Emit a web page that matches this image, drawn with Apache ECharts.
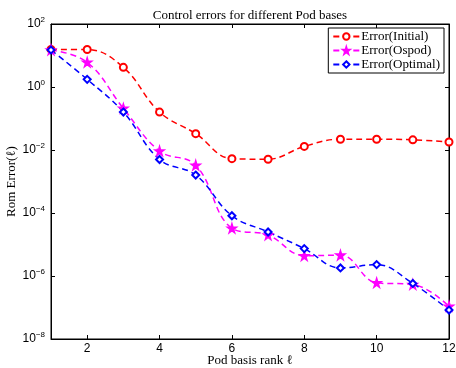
<!DOCTYPE html>
<html>
<head>
<meta charset="utf-8">
<script src="https://cdn.jsdelivr.net/npm/echarts@6/dist/echarts.min.js"></script>
<style>
  html, body { margin: 0; padding: 0; background: #fff; }
  #chart { width: 456px; height: 368px; }
</style>
</head>
<body>
<div id="chart"></div>
<script>
// data
const ranks = [1, 2, 3, 4, 5, 6, 7, 8, 9, 10, 11, 12];
const errInitial = [15.6, 15.5, 4.2, 0.16, 0.033, 0.0053, 0.0051, 0.013, 0.022, 0.022, 0.021, 0.018];
const errOspod = [15, 6.1, 0.21, 0.0093, 0.0033, 3.3e-5, 2.0e-5, 4.4e-6, 4.6e-6, 6.1e-7, 5.4e-7, 1.1e-7];
const errOptimal = [15, 1.75, 0.16, 0.005, 0.0016, 8.2e-5, 2.5e-5, 7.4e-6, 1.8e-6, 2.3e-6, 5.8e-7, 8.3e-8];
const seriesNames = ['Error(Initial)', 'Error(Ospod)', 'Error(Optimal)'];

const serif = '"Liberation Serif", "DejaVu Serif", serif';
const sans = '"Liberation Sans", Arial, sans-serif';
const starPath = 'path://M50,0 L61,35 L98,35 L68,57 L79,91 L50,70 L21,91 L32,57 L2,35 L39,35 Z';

const chart = echarts.init(document.getElementById('chart'), null, { renderer: 'canvas' });

const pairs = arr => ranks.map((r, i) => [r, arr[i]]);

const mkSeries = (name, data, color, symbol, size) => ({
  name: name,
  type: 'line',
  data: pairs(data),
  smooth: 0.4,
  symbol: symbol,
  symbolSize: size,
  color: color,
  lineStyle: { color: color, width: 1.5, type: [6, 4] },
  itemStyle: { color: color, borderColor: color, borderWidth: 1.5 },
  emphasis: { disabled: true },
  animation: false,
});

const expLabel = v => {
  const e = Math.round(Math.log10(v));
  return '{b|10}{s|' + (e < 0 ? '\u2212' + (-e) : e) + '}';
};

const tickInside = { show: true, inside: true, length: 4, lineStyle: { color: '#000' } };

const option = {
  backgroundColor: '#fff',
  animation: false,
  title: {
    text: 'Control errors for different Pod bases',
    left: 245,
    textAlign: 'center',
    top: 4,
    textStyle: { fontFamily: serif, fontSize: 13, fontWeight: 'normal', color: '#000' },
  },
  legend: {
    data: seriesNames,
    orient: 'vertical',
    right: 12,
    top: 28,
    backgroundColor: '#fff',
    borderColor: '#000',
    borderWidth: 1,
    padding: [2, 4, 2, 4],
    itemGap: 1,
    itemWidth: 26,
    itemHeight: 8,
    textStyle: { fontFamily: serif, fontSize: 13, color: '#000', padding: [0, 0, 0, -3] },
  },
  grid: {
    left: 51,
    right: 7,
    top: 24,
    bottom: 29,
    outerBoundsMode: 'none',
    show: true,
    borderColor: '#000',
    borderWidth: 1,
  },
  xAxis: [
    {
      type: 'value',
      min: 1,
      max: 12,
      splitNumber: 5,
      name: 'Pod basis rank \u2113',
      nameLocation: 'middle',
      nameGap: 15,
      nameMoveOverlap: false,
      nameTextStyle: { fontFamily: serif, fontSize: 13, color: '#000' },
      axisLine: { show: true, lineStyle: { color: '#000' } },
      axisTick: tickInside,
      axisLabel: { showMinLabel: false, fontFamily: sans, fontSize: 12, color: '#000', margin: 4 },
      splitLine: { show: false },
    },
    {
      type: 'value',
      position: 'top',
      min: 1,
      max: 12,
      splitNumber: 5,
      axisLine: { show: true, lineStyle: { color: '#000' } },
      axisTick: tickInside,
      axisLabel: { show: false },
      splitLine: { show: false },
    },
  ],
  yAxis: [
    {
      type: 'log',
      logBase: 10,
      min: 1e-8,
      max: 1e2,
      interval: 2,
      name: 'Rom Error(\u2113)',
      nameLocation: 'middle',
      nameGap: 33,
      nameMoveOverlap: false,
      nameTextStyle: { fontFamily: serif, fontSize: 13, color: '#000' },
      axisLine: { show: true, lineStyle: { color: '#000' } },
      axisTick: tickInside,
      axisLabel: {
        formatter: expLabel,
        margin: 6,
        rich: {
          b: { fontFamily: sans, fontSize: 12, color: '#000' },
          s: { fontFamily: sans, fontSize: 8, color: '#000', padding: [0, 0, 8, 0] },
        },
      },
      splitLine: { show: false },
      minorTick: { show: false },
    },
    {
      type: 'log',
      logBase: 10,
      position: 'right',
      min: 1e-8,
      max: 1e2,
      interval: 2,
      axisLine: { show: true, lineStyle: { color: '#000' } },
      axisTick: tickInside,
      axisLabel: { show: false },
      splitLine: { show: false },
    },
  ],
  series: [
    mkSeries(seriesNames[0], errInitial, '#ff0000', 'emptyCircle', 7),
    mkSeries(seriesNames[1], errOspod, '#ff00ff', starPath, 9),
    mkSeries(seriesNames[2], errOptimal, '#0000ff', 'emptyDiamond', 7),
  ],
};

chart.setOption(option);
</script>
</body>
</html>
